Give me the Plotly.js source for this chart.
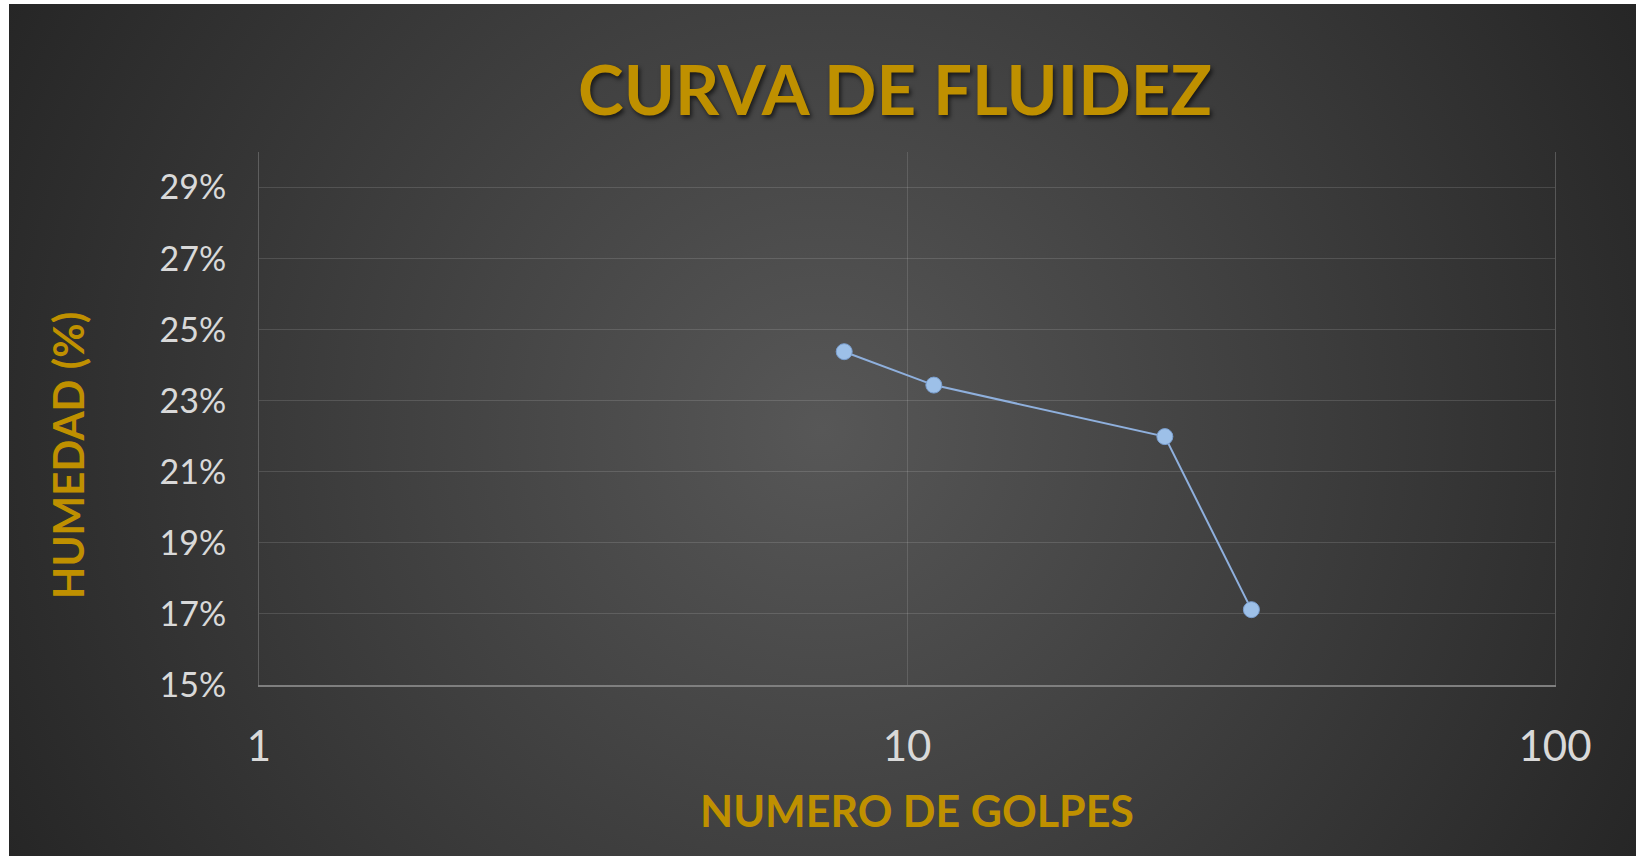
<!DOCTYPE html>
<html>
<head>
<meta charset="utf-8">
<script src="https://cdn.plot.ly/plotly-3.0.1.min.js"></script>
<style>
  html, body { margin: 0; padding: 0; background: #ffffff; width: 1636px; height: 856px; overflow: hidden; }
  #chart {
    position: absolute; left: 9px; top: 4px; width: 1627px; height: 852px;
    background: radial-gradient(circle farthest-corner at 50% 50%, #575757 0%, #262626 100%);
  }
</style>
</head>
<body>
<div id="chart"></div>
<script>
// Data
const golpes = [8, 11, 25, 34];                   // NUMERO DE GOLPES
const humedad = [0.2438, 0.2344, 0.2199, 0.1712]; // HUMEDAD (%)
const yTickVals = [0.15, 0.17, 0.19, 0.21, 0.23, 0.25, 0.27, 0.29];
const xTickVals = [1, 10, 100];

const titleText = 'CURVA DE FLUIDEZ';
const xTitleText = 'NUMERO DE GOLPES';
const yTitleText = 'HUMEDAD (%)';

const gold = '#BF9000';
const tickColor = '#D9D9D9';
const gridColor = 'rgba(255,255,255,0.13)';

const trace = {
  x: golpes,
  y: humedad,
  type: 'scatter',
  mode: 'lines+markers',
  line: { color: '#8FB0DD', width: 2 },
  marker: { size: 16, color: '#9DC0E8', line: { color: '#7A9FD0', width: 1 } },
  hoverinfo: 'x+y'
};

const layout = {
  width: 1627,
  height: 852,
  paper_bgcolor: 'rgba(0,0,0,0)',
  plot_bgcolor: 'rgba(0,0,0,0)',
  margin: { l: 250, r: 81, t: 148, b: 171 },
  showlegend: false,
  font: { family: 'Lato, "Open Sans", sans-serif', color: tickColor },
  title: {
    text: titleText,
    font: { family: 'Lato, "Open Sans", sans-serif', size: 69, color: gold, weight: 'bold',
            shadow: '2px 3px 4px rgba(0,0,0,0.6)' },
    x: 0.5446, xanchor: 'center', xref: 'container',
    y: 0.898, yanchor: 'middle', yref: 'container'
  },
  xaxis: {
    type: 'log',
    range: [0, 2],
    tickvals: xTickVals,
    ticktext: xTickVals.map(String),
    tickfont: { size: 42, color: tickColor },
    ticks: '',
    ticklabelstandoff: 24,
    showgrid: true,
    gridcolor: gridColor,
    gridwidth: 1,
    showline: true,
    linecolor: '#7F7F7F',
    linewidth: 2,
    zeroline: false,
    mirror: false
  },
  yaxis: {
    range: [0.15, 0.30],
    tickvals: yTickVals,
    tickformat: '.0%',
    tickfont: { size: 34, color: tickColor },
    ticks: '',
    ticklabelstandoff: 25,
    showgrid: true,
    gridcolor: gridColor,
    gridwidth: 1,
    showline: true,
    linecolor: 'rgba(255,255,255,0.2)',
    linewidth: 1,
    mirror: true,
    zeroline: false
  },
  annotations: [
    {
      text: yTitleText, textangle: -90, showarrow: false,
      xref: 'paper', yref: 'paper', x: -0.1474, y: 0.4315,
      xanchor: 'center', yanchor: 'middle',
      font: { family: 'Lato, "Open Sans", sans-serif', size: 42, color: gold, weight: 'bold' }
    },
    {
      text: xTitleText, showarrow: false,
      xref: 'paper', yref: 'paper', x: 0.508, y: -0.2355,
      xanchor: 'center', yanchor: 'middle',
      font: { family: 'Lato, "Open Sans", sans-serif', size: 43, color: gold, weight: 'bold' }
    }
  ]
};

Plotly.newPlot('chart', [trace], layout, { displayModeBar: false });
</script>
</body>
</html>
